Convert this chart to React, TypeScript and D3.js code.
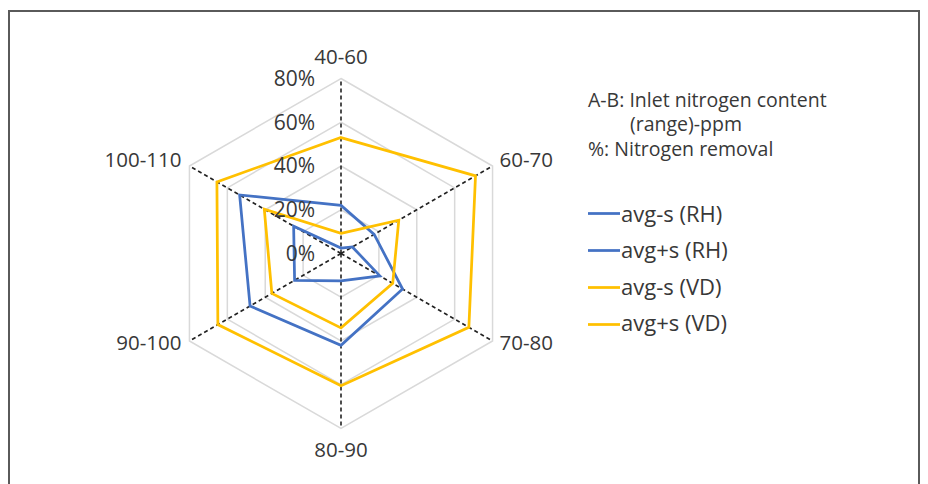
import React from "react";
import * as d3 from "d3";

const categories = ["40-60", "60-70", "70-80", "80-90", "90-100", "100-110"];
const levels = [0, 20, 40, 60, 80];
const levelLabels = ["0%", "20%", "40%", "60%", "80%"];

const avgMinusRH = [2.5, 6, 20.5, 12.5, 24.5, 25];
const avgPlusRH = [22, 17.5, 32.5, 42, 48, 53.5];
const avgMinusVD = [9.2, 30.5, 27.3, 34, 36.5, 40.5];
const avgPlusVD = [53, 71, 67.5, 60.5, 65, 65.5];

const seriesNames = ["avg-s (RH)", "avg+s (RH)", "avg-s (VD)", "avg+s (VD)"];
const seriesValues = [avgMinusRH, avgPlusRH, avgMinusVD, avgPlusVD];
const seriesColors = ["#4472C4", "#4472C4", "#FFC000", "#FFC000"];

const noteLines = ["A-B: Inlet nitrogen content", "(range)-ppm", "%: Nitrogen removal"];

export default function App() {
  const W = 928;
  const H = 484;
  const cx = 341;
  const cy = 253.5;
  const R = 175;
  const font = "'Open Sans', 'DejaVu Sans', sans-serif";
  const textColor = "#383838";

  const r = d3.scaleLinear().domain([0, 80]).range([0, R]);
  const angle = (i: number) => (i * Math.PI * 2) / categories.length;
  const pt = (i: number, rad: number): [number, number] => [
    cx + rad * Math.sin(angle(i)),
    cy - rad * Math.cos(angle(i)),
  ];

  const radial = d3
    .lineRadial<number>()
    .angle((_, i) => angle(i))
    .radius((d) => r(d))
    .curve(d3.curveLinearClosed);

  const gridLevels = levels.filter((l) => l > 0);

  return (
    <svg
      width={W}
      height={H}
      style={{ position: "absolute", left: 0, top: 0, background: "#fff" }}
      fontFamily={font}
    >
      <rect x={0} y={0} width={W} height={H} fill="#fff" />
      {/* frame */}
      <path d={`M9,${H + 2} L9,11 L919,11 L919,${H + 2}`} fill="none" stroke="#5a5a5a" strokeWidth={2} />

      <g transform={`translate(${cx},${cy})`}>
        {gridLevels.map((l) => (
          <path
            key={l}
            d={radial(categories.map(() => l)) || ""}
            fill="none"
            stroke="#D9D9D9"
            strokeWidth={1.5}
          />
        ))}
      </g>

      {categories.map((c, i) => {
        const [x, y] = pt(i, R);
        return (
          <line
            key={c}
            x1={cx}
            y1={cy}
            x2={x}
            y2={y}
            stroke="#222"
            strokeWidth={1.6}
            strokeDasharray="4,3"
          />
        );
      })}

      <g transform={`translate(${cx},${cy})`}>
        {seriesValues.map((vals, k) => (
          <path
            key={seriesNames[k]}
            d={radial(vals) || ""}
            fill="none"
            stroke={seriesColors[k]}
            strokeWidth={2.75}
            strokeLinejoin="miter"
          />
        ))}
      </g>

      {levels.map((l, i) => (
        <text
          key={l}
          x={cx - 26}
          y={cy - r(l)}
          dy="0.35em"
          textAnchor="end"
          fontSize={21}
          fill={textColor}
        >
          {levelLabels[i]}
        </text>
      ))}

      {categories.map((c, i) => {
        const a = angle(i);
        const s = Math.sin(a);
        const cc = Math.cos(a);
        let x: number, y: number, anchor: string;
        if (Math.abs(s) < 0.01) {
          x = cx;
          y = cc > 0 ? cy - R - 22 : cy + R + 21;
          anchor = "middle";
        } else {
          const [vx, vy] = pt(i, R);
          x = vx + (s > 0 ? 7 : -8);
          y = vy + (cc > 0 ? -6 : 2);
          anchor = s > 0 ? "start" : "end";
        }
        return (
          <text
            key={c}
            x={x}
            y={y}
            dy="0.35em"
            textAnchor={anchor}
            fontSize={20.5}
            fill={textColor}
          >
            {c}
          </text>
        );
      })}

      {noteLines.map((t, i) => (
        <text
          key={t}
          x={i === 1 ? 630 : 588}
          y={106.5 + i * 24.5}
          fontSize={19.5}
          fill={textColor}
        >
          {t}
        </text>
      ))}

      {seriesNames.map((n, i) => (
        <g key={n}>
          <line
            x1={588}
            x2={620}
            y1={213.5 + i * 37}
            y2={213.5 + i * 37}
            stroke={seriesColors[i]}
            strokeWidth={2.75}
          />
          <text x={621} y={221.5 + i * 36.5} fontSize={22} fill={textColor}>
            {n}
          </text>
        </g>
      ))}
    </svg>
  );
}
